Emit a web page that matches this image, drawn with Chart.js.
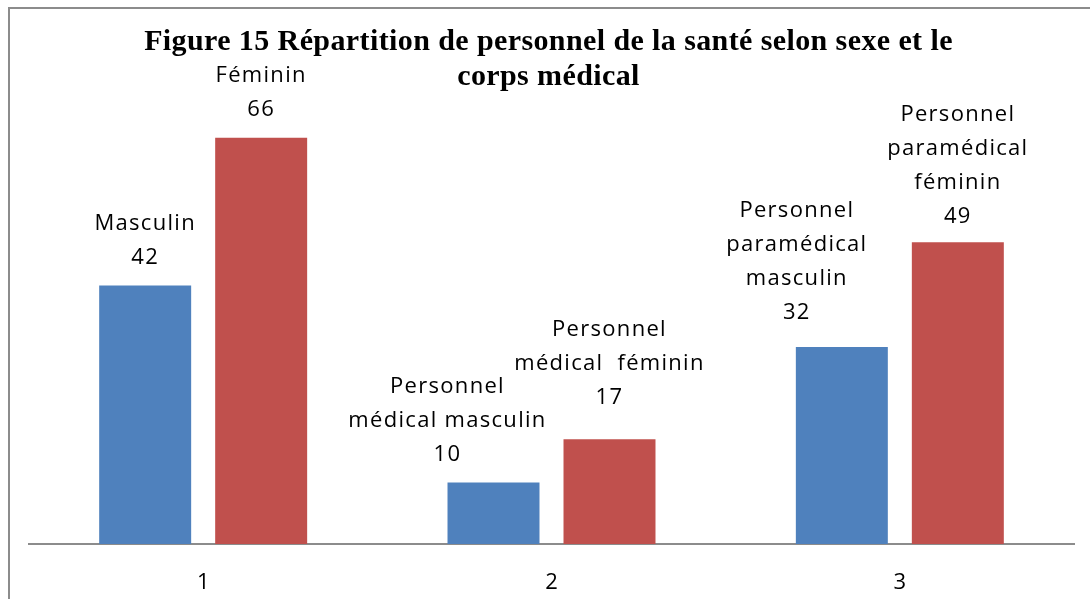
<!DOCTYPE html>
<html>
<head>
<meta charset="utf-8">
<script src="https://cdn.jsdelivr.net/npm/chart.js@4"></script>
<style>
  body { margin: 0; background: #fff; }
  #wrap { position: relative; width: 1090px; height: 599px; overflow: hidden; }
</style>
</head>
<body>
<div id="wrap"><canvas id="chart" width="1090" height="599"></canvas></div>
<script>
// Data
const categories = ['1', '2', '3'];
const masculinValues = [42, 10, 32];
const femininValues = [66, 17, 49];
const masculinLabels = [['Masculin'], ['Personnel', 'médical masculin'], ['Personnel', 'paramédical', 'masculin']];
const femininLabels = [['Féminin'], ['Personnel', 'médical  féminin'], ['Personnel', 'paramédical', 'féminin']];
const titleLines = ['Figure 15 Répartition de personnel de la santé selon sexe et le', 'corps médical'];

// Label placement tweaks (the original moved some labels by hand)
const labelNudge = [
    [[0, 0], [-46, 0], [-45, -6]],
    [[0, 0], [0, -14], [0, 2]]
];

// Frame, title and the stacked text labels over the bars
const labelPlugin = {
    id: 'barLabels',
    beforeDraw(chart) {
        const ctx = chart.ctx;
        ctx.save();
        ctx.strokeStyle = '#8c8c8c';
        ctx.lineWidth = 2;
        ctx.beginPath();
        ctx.moveTo(9, 599);
        ctx.lineTo(9, 8);
        ctx.lineTo(1090, 8);
        ctx.stroke();

        // title
        const area = chart.chartArea;
        const cx = (area.left + area.right) / 2 - 3;
        ctx.font = 'bold 30px "Liberation Serif", "Times New Roman", serif';
        ctx.letterSpacing = '0.4px';
        ctx.fillStyle = '#000';
        ctx.textAlign = 'center';
        ctx.textBaseline = 'middle';
        titleLines.forEach(function(line, i) {
            ctx.fillText(line, cx, 42 + i * 35);
        });
        ctx.restore();
    },
    afterDatasetsDraw(chart) {
        const ctx = chart.ctx;
        const textSets = [masculinLabels, femininLabels];
        ctx.save();
        ctx.font = '22px "Open Sans"';
        ctx.letterSpacing = '1.3px';
        ctx.fillStyle = '#000';
        ctx.textAlign = 'center';
        ctx.textBaseline = 'middle';
        chart.data.datasets.forEach(function(ds, di) {
            chart.getDatasetMeta(di).data.forEach(function(bar, i) {
                const lines = textSets[di][i].concat([String(ds.data[i])]);
                const nudge = labelNudge[di][i];
                let y = bar.y - 28 + nudge[1];
                for (let k = lines.length - 1; k >= 0; k--) {
                    ctx.fillText(lines[k], bar.x + nudge[0], y);
                    y -= 34;
                }
            });
        });
        ctx.restore();
    }
};

new Chart(document.getElementById('chart'), {
    type: 'bar',
    data: {
        labels: categories,
        datasets: [{
            label: 'Masculin',
            data: masculinValues,
            backgroundColor: '#4F81BD',
            categoryPercentage: 0.666,
            barPercentage: 0.793
        }, {
            label: 'Féminin',
            data: femininValues,
            backgroundColor: '#C0504D',
            categoryPercentage: 0.666,
            barPercentage: 0.793
        }]
    },
    options: {
        responsive: false,
        animation: false,
        layout: {
            padding: { left: 29, right: 16, top: 113, bottom: 0 }
        },
        plugins: {
            legend: { display: false },
            tooltip: { enabled: false },
            title: { display: false }
        },
        scales: {
            x: {
                grid: { display: false, drawTicks: false },
                border: { color: '#8c8c8c', width: 2 },
                ticks: {
                    color: '#000',
                    padding: 26,
                    font: { family: '"Open Sans"', size: 22 }
                },
                afterFit: function(scale) {
                    scale.height = 55;
                }
            },
            y: {
                display: false,
                min: 0,
                max: 70
            }
        }
    },
    plugins: [labelPlugin]
});
</script>
</body>
</html>
